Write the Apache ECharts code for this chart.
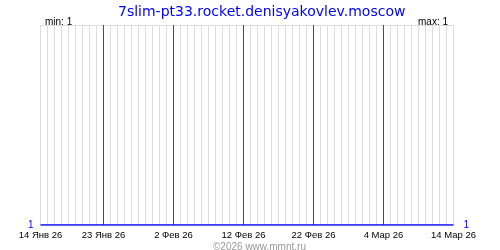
<!DOCTYPE html>
<html><head><meta charset="utf-8">
<script src="https://cdn.jsdelivr.net/npm/echarts@6/dist/echarts.min.js"></script>
<style>html,body{margin:0;padding:0;background:#fff}#c{width:500px;height:250px}</style>
</head><body><div id="c"></div>
<script>
const chartTitle = "7slim-pt33.rocket.denisyakovlev.moscow";
const footer = "©2026 www.mmnt.ru";
const startDate = [2026, 0, 14];
const dayCount = 60;
const monthNames = ["Янв","Фев","Мар","Апр","Май","Июн","Июл","Авг","Сен","Окт","Ноя","Дек"];
const tickLabels = ["14 Янв 26","23 Янв 26","2 Фев 26","12 Фев 26","22 Фев 26","4 Мар 26","14 Мар 26"];
const values = [1,1,1,1,1,1,1,1,1,1,1,1,1,1,1,1,1,1,1,1,1,1,1,1,1,1,1,1,1,1,
                1,1,1,1,1,1,1,1,1,1,1,1,1,1,1,1,1,1,1,1,1,1,1,1,1,1,1,1,1,1];

const categories = [];
for (let i = 0; i < dayCount; i++) {
  const d = new Date(startDate[0], startDate[1], startDate[2] + i);
  categories.push(d.getDate() + " " + monthNames[d.getMonth()] + " " + String(d.getFullYear()).slice(2));
}
const isTick = (idx) => tickLabels.indexOf(categories[idx]) >= 0;
const vMin = Math.min.apply(null, values), vMax = Math.max.apply(null, values);
const FONT = "Liberation Sans";

const chart = echarts.init(document.getElementById('c'), null, {renderer: 'canvas'});
chart.setOption({
  animation: false,
  backgroundColor: '#fff',
  title: [
    {text: chartTitle, left: 113, top: 0, textStyle: {color: '#0000ff', fontFamily: 'DejaVu Sans', fontSize: 14, fontWeight: 'normal'}},
    {text: 'min: ' + vMin, left: 40, top: 12, textStyle: {color: '#000', fontFamily: FONT, fontSize: 10, fontWeight: 'normal'}},
    {text: 'max: ' + vMax, right: 47, top: 12, textStyle: {color: '#000', fontFamily: FONT, fontSize: 10, fontWeight: 'normal'}},
    {text: footer, left: 208, top: 237, textStyle: {color: '#999', fontFamily: FONT, fontSize: 10, fontWeight: 'normal'}}
  ],
  grid: {left: 40.5, right: 46.5, top: 25, bottom: 25, containLabel: false},
  xAxis: [
    {type: 'category', data: categories, boundaryGap: false,
     axisLine: {show: false}, axisTick: {show: false},
     axisLabel: {show: true, interval: (i) => isTick(i), margin: 5, color: '#000', fontFamily: FONT, fontSize: 9.5,
                 showMinLabel: true, showMaxLabel: true},
     splitLine: {show: true, interval: 0, lineStyle: {color: '#dddddd', width: 1}}}
  ],
  yAxis: [
    {type: 'value', min: 1, max: 2, interval: 1, position: 'left',
     axisLine: {show: false}, axisTick: {show: false},
     axisLabel: {margin: 7, color: '#0000ff', fontFamily: FONT, fontSize: 10, formatter: (v) => v === vMin ? String(v) : ''},
     splitLine: {show: true, lineStyle: {color: '#dddddd'}}},
    {type: 'value', min: 1, max: 2, interval: 1, position: 'right',
     axisLine: {show: false}, axisTick: {show: false},
     axisLabel: {margin: 10, color: '#0000ff', fontFamily: FONT, fontSize: 10, formatter: (v) => v === vMax ? String(v) : ''},
     splitLine: {show: false}}
  ],
  series: [
    {type: 'line', data: values, xAxisIndex: 0, yAxisIndex: 0, showSymbol: false, symbol: 'none',
     lineStyle: {color: '#0000ff', width: 1.5}, z: 5,
     markLine: {silent: true, symbol: ['none', 'none'], animation: false, precision: 0,
                label: {show: false},
                lineStyle: {color: '#ff0000', type: 'solid', width: 1, opacity: 1},
                data: [
                  [{coord: ['23 Янв 26', 1]}, {coord: ['23 Янв 26', 2]}],
                  [{coord: ['2 Фев 26', 1]}, {coord: ['2 Фев 26', 2]}],
                  [{coord: ['12 Фев 26', 1]}, {coord: ['12 Фев 26', 2]}],
                  [{coord: ['22 Фев 26', 1]}, {coord: ['22 Фев 26', 2]}],
                  [{coord: ['4 Мар 26', 1]}, {coord: ['4 Мар 26', 2]}]
                ]}}
  ]
});
</script></body></html>
